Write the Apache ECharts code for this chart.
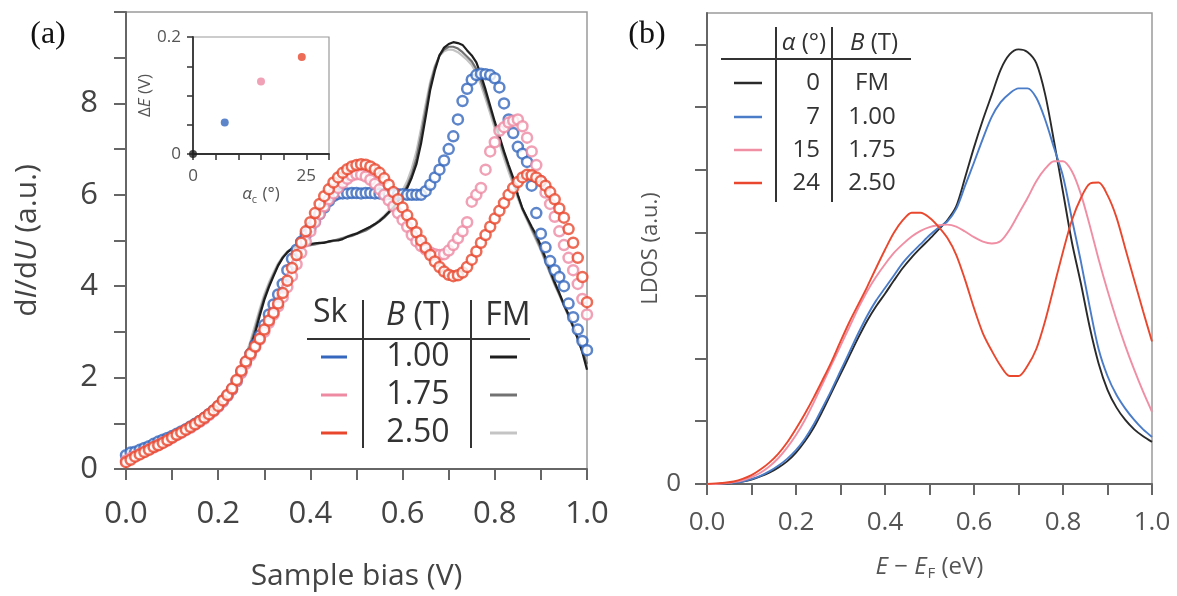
<!DOCTYPE html>
<html>
<head>
<meta charset="utf-8">
<script src="https://cdn.jsdelivr.net/npm/echarts@6.0.0/dist/echarts.min.js"></script>
<style>
html,body{margin:0;padding:0;background:#fff;}
#chart{width:1177px;height:596px;}
</style>
</head>
<body>
<div id="chart"></div>
<script>
// ---------- Panel (a): dI/dU vs sample bias ----------
const biasV = Array.from({length: 101}, (_, i) => +(i * 0.01).toFixed(2));

const skBlue100 = [0.3,0.36,0.38,0.42,0.46,0.5,0.55,0.6,0.64,0.68,
0.72,0.77,0.82,0.87,0.93,0.99,1.05,1.12,1.2,1.28,
1.37,1.48,1.6,1.74,1.92,2.12,2.33,2.52,2.72,2.92,
3.15,3.38,3.6,3.82,4.05,4.35,4.6,4.8,4.97,5.12,
5.28,5.42,5.58,5.72,5.86,5.97,6.02,6.03,6.03,6.04,
6.04,6.03,6.04,6.04,6.03,6.03,6.02,6.02,6.02,6.01,
6.01,6.0,6.0,6.0,6.0,6.08,6.22,6.38,6.55,6.75,
7.0,7.28,7.65,8.05,8.32,8.52,8.62,8.65,8.64,8.62,
8.55,8.35,8.0,7.65,7.35,7.05,6.9,6.72,6.2,5.6,
5.15,4.85,4.55,4.35,4.2,4.0,3.62,3.32,3.05,2.8,
2.6];

const skPink175 = [0.18,0.24,0.28,0.33,0.38,0.43,0.47,0.53,0.58,0.62,
0.68,0.74,0.79,0.85,0.9,0.97,1.03,1.1,1.18,1.26,
1.36,1.47,1.6,1.74,1.92,2.1,2.3,2.48,2.66,2.83,
3.0,3.2,3.38,3.56,3.76,3.98,4.22,4.48,4.73,4.98,
5.2,5.4,5.58,5.75,5.9,6.03,6.15,6.26,6.35,6.42,
6.45,6.44,6.4,6.33,6.24,6.12,6.0,5.88,5.75,5.6,
5.45,5.3,5.12,4.98,4.88,4.8,4.74,4.7,4.68,4.7,
4.78,4.9,5.05,5.2,5.4,5.85,6.0,6.15,6.55,6.95,
7.15,7.4,7.48,7.58,7.62,7.65,7.5,7.25,6.95,6.65,
6.3,6.05,5.8,5.52,5.2,4.9,4.62,4.35,4.05,3.72,
3.38];

const skRed250 = [0.15,0.2,0.27,0.32,0.37,0.42,0.48,0.52,0.57,0.63,
0.69,0.75,0.8,0.86,0.92,0.98,1.05,1.12,1.2,1.28,
1.38,1.5,1.62,1.76,1.95,2.15,2.35,2.52,2.68,2.85,
3.05,3.25,3.42,3.62,3.85,4.12,4.4,4.68,4.95,5.2,
5.4,5.6,5.8,5.97,6.12,6.27,6.38,6.48,6.56,6.62,
6.65,6.67,6.66,6.62,6.56,6.48,6.36,6.22,6.06,5.9,
5.72,5.55,5.37,5.18,5.0,4.84,4.68,4.54,4.42,4.32,
4.25,4.22,4.24,4.3,4.42,4.58,4.76,4.95,5.12,5.3,
5.48,5.65,5.82,6.0,6.15,6.28,6.38,6.44,6.43,6.38,
6.3,6.2,6.06,5.9,5.7,5.5,5.25,4.95,4.62,4.2,
3.65];

const fmBlack = [0.18,0.23,0.28,0.33,0.38,0.43,0.48,0.53,0.58,0.63,
0.69,0.74,0.8,0.86,0.92,0.98,1.05,1.12,1.2,1.29,
1.39,1.51,1.64,1.8,1.98,2.18,2.4,2.65,2.97,3.35,
3.7,3.98,4.22,4.45,4.62,4.74,4.82,4.87,4.9,4.9,
4.92,4.94,4.95,4.95,4.98,5.0,5.0,5.03,5.08,5.12,
5.15,5.2,5.25,5.3,5.36,5.43,5.52,5.62,5.72,5.86,
6.0,6.15,6.38,6.67,7.12,7.7,8.3,8.72,9.05,9.22,
9.3,9.34,9.32,9.28,9.16,9.05,8.9,8.62,8.3,7.95,
7.6,7.28,6.95,6.65,6.37,6.0,5.7,5.5,5.3,5.12,
4.88,4.62,4.35,4.08,3.85,3.6,3.38,3.12,2.86,2.55,
2.17];

const fmDarkGray = [0.18,0.23,0.28,0.33,0.38,0.43,0.48,0.53,0.58,0.63,
0.69,0.74,0.8,0.86,0.92,0.98,1.05,1.12,1.2,1.29,
1.4,1.52,1.66,1.82,2.0,2.2,2.45,2.72,3.05,3.42,
3.75,4.02,4.25,4.47,4.63,4.75,4.83,4.86,4.88,4.9,
4.9,4.92,4.94,4.96,4.97,4.99,5.02,5.05,5.08,5.1,
5.14,5.18,5.22,5.28,5.35,5.42,5.5,5.6,5.72,5.86,
6.02,6.2,6.45,6.8,7.3,7.85,8.4,8.78,9.05,9.18,
9.24,9.24,9.2,9.12,9.02,8.92,8.75,8.5,8.2,7.88,
7.55,7.22,6.9,6.6,6.3,5.98,5.7,5.48,5.26,5.05,
4.82,4.56,4.3,4.05,3.82,3.58,3.35,3.1,2.85,2.58,
2.3];

const fmLightGray = [0.18,0.23,0.28,0.33,0.38,0.43,0.48,0.53,0.58,0.63,
0.69,0.74,0.8,0.86,0.92,0.98,1.05,1.12,1.2,1.3,
1.41,1.54,1.68,1.85,2.04,2.25,2.5,2.8,3.15,3.5,
3.82,4.08,4.3,4.5,4.65,4.76,4.82,4.85,4.87,4.88,
4.9,4.91,4.93,4.95,4.97,5.0,5.03,5.06,5.09,5.13,
5.16,5.2,5.24,5.3,5.37,5.45,5.54,5.65,5.78,5.93,
6.1,6.3,6.58,6.95,7.45,7.98,8.48,8.82,9.04,9.14,
9.18,9.17,9.12,9.04,8.95,8.84,8.66,8.4,8.1,7.78,
7.45,7.12,6.8,6.5,6.22,5.92,5.66,5.44,5.22,5.0,
4.78,4.52,4.27,4.02,3.8,3.57,3.34,3.1,2.86,2.6,
2.35];

// inset: energy shift vs cone angle
const insetAlpha = [0, 7, 15, 24];
const insetDeltaE = [0, 0.054, 0.124, 0.166];

// ---------- Panel (b): LDOS vs E - EF ----------
const energyEV = Array.from({length: 51}, (_, i) => +(i * 0.02).toFixed(2));
const ldos0 = [0,0,0.01,0.02,0.04,0.07,0.12,0.18,0.26,0.36,
0.5,0.68,0.9,1.17,1.46,1.75,2.04,2.33,2.6,2.83,
3.03,3.24,3.44,3.61,3.76,3.9,4.05,4.2,4.42,4.88,
5.36,5.8,6.2,6.6,6.84,6.92,6.88,6.7,6.2,5.45,
4.65,3.85,3.2,2.5,1.92,1.5,1.22,1.02,0.87,0.76,
0.67];
const ldos7 = [0,0,0.01,0.02,0.04,0.08,0.13,0.2,0.29,0.4,
0.54,0.72,0.95,1.22,1.5,1.8,2.1,2.4,2.68,2.92,
3.12,3.32,3.52,3.68,3.82,3.96,4.08,4.18,4.38,4.75,
5.12,5.5,5.85,6.08,6.22,6.3,6.3,6.15,5.8,5.35,
4.9,4.22,3.55,2.82,2.15,1.72,1.42,1.2,1.02,0.87,
0.75];
const ldos15 = [0,0,0.01,0.03,0.06,0.11,0.18,0.28,0.41,0.58,
0.78,1.02,1.3,1.6,1.9,2.2,2.5,2.8,3.07,3.3,
3.5,3.68,3.82,3.94,4.03,4.09,4.12,4.13,4.1,4.02,
3.93,3.86,3.83,3.87,4.05,4.3,4.55,4.82,5.02,5.14,
5.14,4.98,4.62,4.12,3.58,3.08,2.62,2.2,1.82,1.47,
1.15];
const ldos24 = [0,0.01,0.02,0.04,0.08,0.14,0.23,0.34,0.48,0.66,
0.88,1.12,1.38,1.66,1.95,2.27,2.58,2.86,3.14,3.44,
3.73,4.0,4.2,4.32,4.32,4.24,4.1,3.92,3.65,3.25,
2.8,2.4,2.12,1.88,1.72,1.72,1.88,2.15,2.6,3.15,
3.7,4.2,4.55,4.78,4.8,4.6,4.25,3.75,3.25,2.75,
2.27];

// tick labels
const xTickLabels = ['0.0','0.2','0.4','0.6','0.8','1.0'];
const yTickLabelsA = ['0','2','4','6','8'];
const insetXLabels = ['0','25'];
const insetYLabels = ['0','0.2'];
const yTickLabelsB = ['0'];

// legend tables
const legendA = {rows: ['1.00','1.75','2.50']};
const legendB = {alpha: ['0','7','15','24'], field: ['FM','1.00','1.75','2.50']};

// ---------- styling ----------
const C = {
  blue:'#3467bd', pink:'#ee8aa2', red:'#e8472d',
  black:'#1e1e1e', dgray:'#727272', lgray:'#c4c4c4',
  bBlack:'#2a2a2a', bBlue:'#4a7cc8', bPink:'#f08ea4', bRed:'#e9482e'
};
const FONT = '"Open Sans", "Noto Sans", sans-serif';
const axisCol = '#666';

function pairs(xs, ys){ return xs.map((x,i)=>[x, ys[i]]); }
function fmtX(v){ const s=(Math.round(v*10)/10).toFixed(1); return xTickLabels.includes(s)? s : ''; }

const chart = echarts.init(document.getElementById('chart'), null, {renderer:'canvas'});

function circleSeries(name, data, color){
  return {
    name, type:'scatter', xAxisIndex:0, yAxisIndex:0, data: pairs(biasV, data),
    symbol:'circle', symbolSize:10, z:2,
    itemStyle:{color:'#fff', borderColor:color, borderWidth:2.5},
    clip:false, silent:true
  };
}
function lineSeries(name, xs, ys, color, idx, width){
  return {
    name, type:'line', xAxisIndex:idx, yAxisIndex:idx, data: pairs(xs, ys),
    showSymbol:false, smooth: idx===2 ? 0.3 : false, z: idx===0 ? 1 : 3,
    lineStyle:{color, width}, silent:true
  };
}

const legendAGraphic = [];
legendAGraphic.push(
  {type:'text', left:313, top:297, style:{text:'Sk', font:'32px '+FONT, fill:'#333'}},
  {type:'text', x:418, y:316, style:{text:'{i|B} (T)', rich:{i:{fontStyle:'italic', font:'italic 32px '+FONT, fill:'#333'}}, font:'32px '+FONT, fill:'#333', align:'center', verticalAlign:'middle'}},
  {type:'text', x:508, y:316, style:{text:'FM', font:'32px '+FONT, fill:'#333', align:'center', verticalAlign:'middle'}},
  {type:'line', shape:{x1:307,y1:339,x2:530,y2:339}, style:{stroke:'#333', lineWidth:2}},
  {type:'line', shape:{x1:363,y1:300,x2:363,y2:448}, style:{stroke:'#333', lineWidth:2}},
  {type:'line', shape:{x1:471,y1:300,x2:471,y2:448}, style:{stroke:'#333', lineWidth:2}}
);
const rowYA = [357, 395, 433];
const skCols = [C.blue, C.pink, C.red];
const fmCols = [C.black, C.dgray, C.lgray];
legendA.rows.forEach((t,i)=>{
  legendAGraphic.push(
    {type:'text', x:418, y:rowYA[i], style:{text:t, font:'32px '+FONT, fill:'#333', align:'center', verticalAlign:'middle'}},
    {type:'line', shape:{x1:321,y1:rowYA[i],x2:347,y2:rowYA[i]}, style:{stroke:skCols[i], lineWidth:3}},
    {type:'line', shape:{x1:490,y1:rowYA[i],x2:517,y2:rowYA[i]}, style:{stroke:fmCols[i], lineWidth:3}}
  );
});

const legendBGraphic = [
  {type:'text', x:804, y:43, style:{text:'{i|α} (°)', rich:{i:{font:'italic 24px '+FONT, fill:'#333'}}, font:'24px '+FONT, fill:'#333', align:'center', verticalAlign:'middle'}},
  {type:'text', x:874, y:43, style:{text:'{i|B} (T)', rich:{i:{font:'italic 24px '+FONT, fill:'#333'}}, font:'24px '+FONT, fill:'#333', align:'center', verticalAlign:'middle'}},
  {type:'line', shape:{x1:721,y1:59,x2:911,y2:59}, style:{stroke:'#333', lineWidth:2}},
  {type:'line', shape:{x1:776,y1:27,x2:776,y2:202}, style:{stroke:'#333', lineWidth:2}},
  {type:'line', shape:{x1:832,y1:27,x2:832,y2:202}, style:{stroke:'#333', lineWidth:2}}
];
const rowYB = [83, 117, 150, 183];
const bCols = [C.bBlack, C.bBlue, C.bPink, C.bRed];
legendB.alpha.forEach((a,i)=>{
  legendBGraphic.push(
    {type:'line', shape:{x1:734,y1:rowYB[i],x2:762,y2:rowYB[i]}, style:{stroke:bCols[i], lineWidth:2.5}},
    {type:'text', x:820, y:rowYB[i], style:{text:a, font:'24px '+FONT, fill:'#333', align:'right', verticalAlign:'middle'}},
    {type:'text', x:872, y:rowYB[i], style:{text:legendB.field[i], font:'24px '+FONT, fill:'#333', align:'center', verticalAlign:'middle'}}
  );
});

const option = {
  animation:false,
  backgroundColor:'#fff',
  textStyle:{fontFamily:FONT},
  grid:[
    {left:126, top:12, width:461, height:458, show:true, borderColor:'#9a9a9a', borderWidth:1.5},
    {left:193, top:37, width:136, height:117, show:true, borderColor:'#9a9a9a', borderWidth:1.2},
    {left:707, top:13, width:445, height:471, show:true, borderColor:'#9a9a9a', borderWidth:1.5}
  ],
  xAxis:[
    {gridIndex:0, type:'value', min:0, max:1, interval:0.1,
     axisLine:{lineStyle:{color:axisCol, width:2}},
     axisTick:{length:11, lineStyle:{color:axisCol, width:2}},
     axisLabel:{fontSize:31, color:'#444', margin:30, formatter:fmtX, fontFamily:FONT},
     splitLine:{show:false},
     name:'Sample bias (V)', nameLocation:'middle', nameGap:92,
     nameTextStyle:{fontSize:30, color:'#444', fontFamily:FONT}},
    {gridIndex:1, type:'value', min:0, max:30, interval:5,
     axisLine:{lineStyle:{color:'#333', width:1.8}},
     axisTick:{length:6, lineStyle:{color:'#333', width:1.5}},
     axisLabel:{fontSize:17, color:'#555', margin:14, fontFamily:FONT,
       formatter:v=> insetXLabels.includes(String(v)) ? String(v) : ''},
     splitLine:{show:false},
     name:'{i|α}{s|c} (°)', nameLocation:'middle', nameGap:26,
     nameTextStyle:{fontSize:17, color:'#555', fontFamily:FONT,
       rich:{i:{fontStyle:'italic', fontSize:17, color:'#555', fontFamily:FONT}, s:{fontSize:11, color:'#555', padding:[10,1,0,0], fontFamily:FONT}}}},
    {gridIndex:2, type:'value', min:0, max:1, interval:0.1,
     axisLine:{lineStyle:{color:axisCol, width:2}},
     axisTick:{length:11, lineStyle:{color:axisCol, width:2}},
     axisLabel:{fontSize:26, color:'#555', margin:26, formatter:fmtX, fontFamily:FONT},
     splitLine:{show:false},
     name:'{i|E} − {i|E}{s|F} (eV)', nameLocation:'middle', nameGap:70,
     nameTextStyle:{fontSize:24, color:'#555', fontFamily:FONT,
       rich:{i:{fontStyle:'italic', fontSize:24, color:'#555', fontFamily:FONT}, s:{fontSize:15, color:'#555', padding:[12,0,0,1], fontFamily:FONT}}}}
  ],
  yAxis:[
    {gridIndex:0, type:'value', min:0, max:10, interval:1,
     axisLine:{lineStyle:{color:axisCol, width:2}},
     axisTick:{length:12, lineStyle:{color:axisCol, width:2}},
     axisLabel:{fontSize:31, color:'#444', margin:28, fontFamily:FONT,
       formatter:v=> yTickLabelsA.includes(String(v)) ? String(v) : ''},
     splitLine:{show:false},
     name:'d{i|I}/d{i|U} (a.u.)', nameLocation:'middle', nameRotate:90, nameGap:84,
     nameTextStyle:{fontSize:30, color:'#444', fontFamily:FONT,
       rich:{i:{fontStyle:'italic', fontSize:30, color:'#444', fontFamily:FONT}}}},
    {gridIndex:1, type:'value', min:0, max:0.2, interval:0.05,
     axisLine:{lineStyle:{color:'#333', width:1.8}},
     axisTick:{length:6, lineStyle:{color:'#333', width:1.5}},
     axisLabel:{fontSize:17, color:'#555', margin:12, fontFamily:FONT,
       formatter:v=> { const s = v===0 ? '0' : (Math.abs(v-0.2)<1e-9 ? '0.2' : ''); return insetYLabels.includes(s)? s : ''; }},
     splitLine:{show:false},
     name:'Δ{i|E} (V)', nameLocation:'middle', nameRotate:90, nameGap:38,
     nameTextStyle:{fontSize:17, color:'#555', fontFamily:FONT,
       rich:{i:{fontStyle:'italic', fontSize:17, color:'#555', fontFamily:FONT}}}},
    {gridIndex:2, type:'value', min:0, max:7.5, interval:1,
     axisLine:{lineStyle:{color:axisCol, width:2}},
     axisTick:{length:12, lineStyle:{color:axisCol, width:2}, customValues:[0,1,2,3,4,5,6,7]},
     axisLabel:{fontSize:26, color:'#555', margin:26, fontFamily:FONT,
       formatter:v=> yTickLabelsB.includes(String(v)) ? String(v) : ''},
     splitLine:{show:false},
     name:'LDOS (a.u.)', nameLocation:'middle', nameRotate:90, nameGap:36,
     nameTextStyle:{fontSize:22, color:'#555', fontFamily:FONT}}
  ],
  series:[
    lineSeries('FM 2.50', biasV, fmLightGray, C.lgray, 0, 2.2),
    lineSeries('FM 1.75', biasV, fmDarkGray, C.dgray, 0, 2.2),
    lineSeries('FM 1.00', biasV, fmBlack, C.black, 0, 2.2),
    circleSeries('Sk 1.00', skBlue100, C.blue),
    circleSeries('Sk 1.75', skPink175, C.pink),
    circleSeries('Sk 2.50', skRed250, C.red),
    {type:'scatter', xAxisIndex:1, yAxisIndex:1, clip:false, symbolSize:8, silent:true,
     data: insetAlpha.map((a,i)=>({value:[a, insetDeltaE[i]], itemStyle:{color:[C.black,C.blue,C.pink,C.red][i]}}))},
    lineSeries('α 0', energyEV, ldos0, C.bBlack, 2, 1.9),
    lineSeries('α 7', energyEV, ldos7, C.bBlue, 2, 1.9),
    lineSeries('α 15', energyEV, ldos15, C.bPink, 2, 1.9),
    lineSeries('α 24', energyEV, ldos24, C.bRed, 2, 1.9)
  ],
  graphic:[
    {type:'text', x:48, y:35, style:{text:'(a)', font:'32px "Liberation Serif", serif', fill:'#111', align:'center', verticalAlign:'middle'}},
    {type:'text', x:647, y:35, style:{text:'(b)', font:'32px "Liberation Serif", serif', fill:'#111', align:'center', verticalAlign:'middle'}},
    ...legendAGraphic,
    ...legendBGraphic
  ]
};
chart.setOption(option);
</script>
</body>
</html>
